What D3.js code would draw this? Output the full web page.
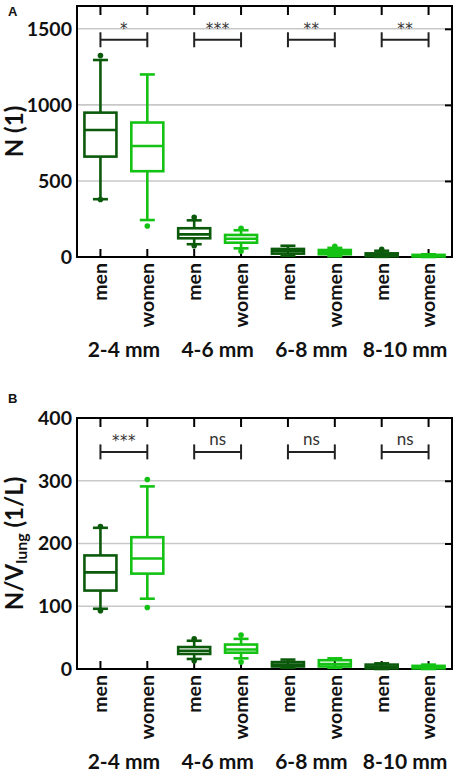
<!DOCTYPE html>
<html><head><meta charset="utf-8">
<script src="https://cdn.jsdelivr.net/npm/d3@7"></script>
<style>body{margin:0;background:#fff}svg{display:block}</style>
</head><body>
<svg id="chart" width="459" height="780"></svg>
<script>
// ---- data ----
const groups = ["2-4 mm", "4-6 mm", "6-8 mm", "8-10 mm"];
const sexes = ["men", "women"];
// box stats per (group, sex): [whiskerLow, q1, median, q3, whiskerHigh]
const countStats = [
  [380, 660, 835, 949, 1295], [243, 564, 730, 884, 1200],
  [84, 123, 149, 189, 241],   [57, 94, 120, 145, 176],
  [8, 22, 38, 53, 74],        [5, 18, 32, 46, 60],
  [1, 5, 12, 24, 41],         [0, 3, 8, 14, 18]
];
const countOutliers = [[1324, 378], [204], [261, 74], [189, 37], [], [70], [50], []];
const countSig = ["*", "***", "**", "**"];
const countTicks = [0, 500, 1000, 1500];

const densStats = [
  [96, 125, 154, 181, 225],  [112, 152, 176, 210, 291],
  [16, 24, 29, 35, 45],      [17, 26, 31, 39, 48],
  [2, 4, 7, 11, 15],         [2, 4, 8, 14, 17],
  [0, 1, 3, 7, 9],           [0, 1, 2, 5, 7]
];
const densOutliers = [[227, 93], [302, 98], [48, 13], [54, 11], [], [], [], []];
const densSig = ["***", "ns", "ns", "ns"];
const densTicks = [0, 100, 200, 300, 400];

const colors = {men: "#0b5a0b", women: "#14c214"};

const svg = d3.select("#chart");
const FONT = "Lato, 'Open Sans', sans-serif";

function panel(o) {
  const left = 77, right = 452, top = o.top, bottom = o.top + 251;
  const keys = [];
  groups.forEach(g => sexes.forEach(s => keys.push(g + "|" + s)));
  const x = d3.scaleBand().domain(keys).range([left, right]);
  const cx = k => x(k) + x.bandwidth() / 2;
  const y = d3.scaleLinear().domain(o.domain).range([bottom, top]);
  const g = svg.append("g");

  // grid
  g.selectAll(".grid").data(o.ticks.filter(t => t > 0 && y(t) > top + 1)).join("line")
    .attr("x1", left).attr("x2", right).attr("y1", d => y(d)).attr("y2", d => y(d))
    .attr("stroke", "#c8c8c8").attr("stroke-width", 1.6);

  // right axis (inward ticks)
  const ra = g.append("g").attr("transform", `translate(${right},0)`)
    .call(d3.axisLeft(y).tickValues(o.ticks.filter(t => t > 0 && y(t) > top + 1)).tickSize(7).tickFormat(""));
  // top axis ticks
  const ta = g.append("g").attr("transform", `translate(0,${top})`)
    .call(d3.axisBottom(x).tickSize(9).tickFormat(""));
  // bottom axis ticks
  const ba = g.append("g").attr("transform", `translate(0,${bottom})`)
    .call(d3.axisTop(x).tickSize(8).tickFormat(""));
  // left axis labels
  const la = g.append("g").attr("transform", `translate(${left},0)`)
    .call(d3.axisLeft(y).tickValues(o.ticks).tickSize(0).tickPadding(5).tickFormat(d3.format("d")));
  [ra, ta, ba, la].forEach(a => {
    a.select(".domain").remove();
    a.selectAll(".tick line").attr("stroke", "#000").attr("stroke-width", 2);
  });
  la.selectAll("text").attr("font-family", FONT).attr("font-weight", 700)
    .attr("font-size", 19.5).attr("fill", "#111");

  // frame
  g.append("rect").attr("x", left).attr("y", top).attr("width", right - left).attr("height", bottom - top)
    .attr("fill", "none").attr("stroke", "#000").attr("stroke-width", 2);

  // boxes
  const bw = 32, cw = 15;
  keys.forEach((k, i) => {
    const s = o.stats[i], col = colors[k.split("|")[1]], c = cx(k);
    const bg = g.append("g").attr("stroke", col).attr("stroke-width", 2.6).attr("fill", "none");
    bg.append("line").attr("x1", c).attr("x2", c).attr("y1", y(s[0])).attr("y2", y(s[1]));
    bg.append("line").attr("x1", c).attr("x2", c).attr("y1", y(s[3])).attr("y2", y(s[4]));
    bg.append("line").attr("x1", c - cw / 2).attr("x2", c + cw / 2).attr("y1", y(s[0])).attr("y2", y(s[0]));
    bg.append("line").attr("x1", c - cw / 2).attr("x2", c + cw / 2).attr("y1", y(s[4])).attr("y2", y(s[4]));
    bg.append("rect").attr("x", c - bw / 2).attr("width", bw)
      .attr("y", y(s[3])).attr("height", Math.max(0.01, y(s[1]) - y(s[3])));
    bg.append("line").attr("x1", c - bw / 2).attr("x2", c + bw / 2).attr("y1", y(s[2])).attr("y2", y(s[2]));
    g.selectAll(null).data(o.outliers[i]).join("circle")
      .attr("cx", c).attr("cy", d => y(d)).attr("r", 2.8).attr("fill", col);
  });

  // significance brackets
  groups.forEach((gr, j) => {
    const a = cx(gr + "|men"), b = cx(gr + "|women"), yy = y(o.bracket);
    const bg = g.append("g").attr("stroke", "#222").attr("stroke-width", 2);
    bg.append("line").attr("x1", a).attr("x2", b).attr("y1", yy).attr("y2", yy);
    bg.append("line").attr("x1", a).attr("x2", a).attr("y1", yy - 7.5).attr("y2", yy + 7.5);
    bg.append("line").attr("x1", b).attr("x2", b).attr("y1", yy - 7.5).attr("y2", yy + 7.5);
    const lab = o.sig[j];
    const ns = lab === "ns";
    g.append("text").attr("x", (a + b) / 2).attr("y", ns ? yy - 7 : yy - 5.5)
      .attr("text-anchor", "middle")
      .attr("font-family", ns ? FONT : "'DejaVu Sans', sans-serif")
      .attr("font-size", ns ? 17 : 15).attr("fill", "#333")
      .attr("letter-spacing", ns ? 0 : 0.5)
      .text(lab);
  });

  // category labels
  keys.forEach(k => {
    g.append("text").attr("transform", `translate(${cx(k)},${bottom + 6}) rotate(-90)`)
      .attr("text-anchor", "end").attr("dy", "0.35em")
      .attr("font-family", FONT).attr("font-weight", 700).attr("font-size", 19.5).attr("fill", "#111")
      .text(k.split("|")[1]);
  });
  groups.forEach(gr => {
    const m = (cx(gr + "|men") + cx(gr + "|women")) / 2;
    g.append("text").attr("x", m).attr("y", bottom + 100).attr("text-anchor", "middle")
      .attr("font-family", FONT).attr("font-weight", 700).attr("font-size", 21).attr("fill", "#111")
      .text(gr);
  });

  // y title
  const t = g.append("text").attr("transform", `translate(22.5,${(top + bottom) / 2}) rotate(-90)`)
    .attr("text-anchor", "middle").attr("font-family", FONT).attr("font-weight", 700)
    .attr("font-size", 24).attr("fill", "#111");
  o.title(t);

  // panel letter
  g.append("text").attr("x", 8).attr("y", o.top + o.letterDy).attr("font-family", "Arial, 'Liberation Sans', sans-serif")
    .attr("font-weight", 700).attr("font-size", 13).attr("fill", "#111").text(o.letter);
}

panel({top: 6, domain: [0, 1650], ticks: countTicks, stats: countStats, outliers: countOutliers,
  sig: countSig, bracket: 1428, letter: "A", letterDy: 10,
  title: t => t.text("N (1)")});
panel({top: 418, domain: [0, 400], ticks: densTicks, stats: densStats, outliers: densOutliers,
  sig: densSig, bracket: 346, letter: "B", letterDy: -15,
  title: t => {
    t.append("tspan").text("N/V");
    t.append("tspan").attr("font-size", 16).attr("dy", 4).text("lung");
    t.append("tspan").attr("dy", -4).text(" (1/L)");
  }});
</script>
</body></html>
